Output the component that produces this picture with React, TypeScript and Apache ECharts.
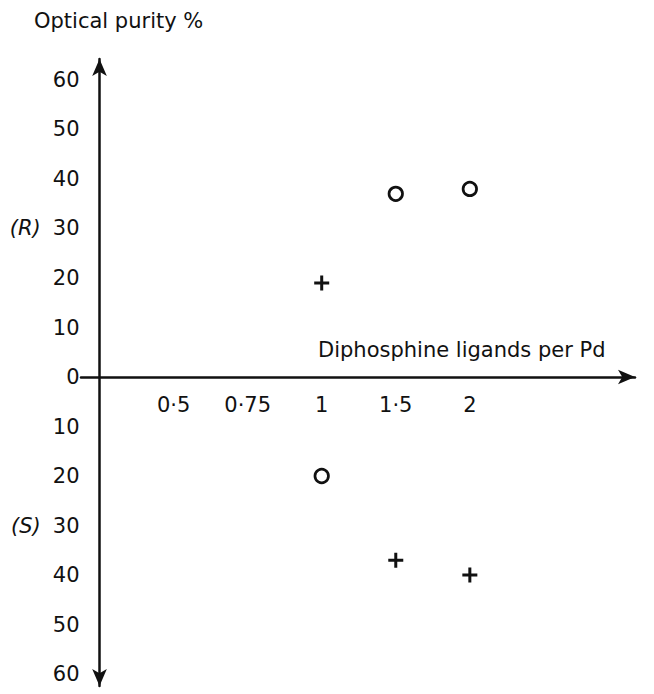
import React, { useEffect, useRef } from "react";
import * as echarts from "echarts";

// x positions (equally spaced in the original figure)
const xLabels = ["0·5", "0·75", "1", "1·5", "2"];
// y tick values (below zero shown as (S) values)
const yTicks = [-60, -50, -40, -30, -20, -10, 0, 10, 20, 30, 40, 50, 60];

// open circles
const circleX = ["1", "1·5", "2"];
const circleY = [-20, 37, 38];
// crosses
const crossX = ["1", "1·5", "2"];
const crossY = [19, -37, -40];

const FONT = "DejaVu Sans";
const INK = "#111111";
const FS = 21;

const xIndex = (lab: string) => xLabels.indexOf(lab) + 1;

// grid geometry
const G_LEFT = 81;
const G_RIGHT = 19;
const G_TOP = 59;
const G_BOTTOM = 8;
const X_MIN = -0.25;
const X_MAX = 7.23;
const Y_MIN = -62.42;
const Y_MAX = 64.24;
const W = 654;
const H = 694;

export default function App() {
  const ref = useRef<HTMLDivElement>(null);
  useEffect(() => {
    if (!ref.current) return;
    const chart = echarts.init(ref.current, null, { renderer: "svg" });
    const plusPath = "path://M6,0H9V6H15V9H9V15H6V9H0V6H6Z";
    const gw = W - G_LEFT - G_RIGHT;
    const gh = H - G_TOP - G_BOTTOM;
    // offsets that put each axis at the other axis's zero
    const yAxisOffset = -((0 - X_MIN) / (X_MAX - X_MIN)) * gw;
    const xAxisOffset = -((0 - Y_MIN) / (Y_MAX - Y_MIN)) * gh;
    chart.setOption({
      animation: false,
      backgroundColor: "#ffffff",
      title: [
        {
          text: "Optical purity %",
          left: 34,
          top: 10,
          padding: 0,
          textStyle: { fontFamily: FONT, fontSize: FS, fontWeight: "normal", color: INK },
        },
        {
          text: "Diphosphine ligands per Pd",
          left: 318,
          top: 339,
          padding: 0,
          textStyle: { fontFamily: FONT, fontSize: FS, fontWeight: "normal", color: INK },
        },
      ],
      grid: { left: G_LEFT, right: G_RIGHT, top: G_TOP, bottom: G_BOTTOM, outerBoundsMode: "none", containLabel: false },
      xAxis: {
        type: "value",
        min: X_MIN,
        max: X_MAX,
        position: "bottom",
        offset: xAxisOffset,
        axisLine: {
          show: true,
          onZero: false,
          lineStyle: { color: INK, width: 2.5 },
          symbol: ["none", "arrow"],
          symbolSize: [11, 17],
        },
        axisTick: { show: false },
        splitLine: { show: false },
        axisLabel: {
          customValues: xLabels.map((_, i) => i + 1),
          formatter: (v: number) => xLabels[Math.round(v) - 1] ?? "",
          margin: 17,
          fontFamily: FONT,
          fontSize: FS,
          color: INK,
        },
      },
      yAxis: {
        type: "value",
        min: Y_MIN,
        max: Y_MAX,
        position: "left",
        offset: yAxisOffset,
        axisLine: {
          show: true,
          onZero: false,
          lineStyle: { color: INK, width: 2.5 },
          symbol: ["arrow", "arrow"],
          symbolSize: [11, 17],
        },
        axisTick: { show: false },
        splitLine: { show: false },
        axisLabel: {
          customValues: yTicks,
          margin: 20,
          fontFamily: FONT,
          fontSize: FS,
          color: INK,
          formatter: (v: number) => {
            const n = Math.abs(Math.round(v));
            if (Math.round(v) === 30) return `{it|(R)}{n|${n}}`;
            if (Math.round(v) === -30) return `{it|(S)}{n|${n}}`;
            return `${n}`;
          },
          rich: {
            it: { fontFamily: FONT, fontSize: FS, fontStyle: "italic", color: INK, padding: [0, 12, 0, 0] },
            n: { fontFamily: FONT, fontSize: FS, color: INK },
          },
        },
      },
      series: [
        {
          name: "circles",
          type: "scatter",
          symbol: "circle",
          symbolSize: 13.5,
          itemStyle: { color: "#ffffff", borderColor: INK, borderWidth: 2.7, opacity: 1 },
          data: circleX.map((x, i) => [xIndex(x), circleY[i]]),
        },
        {
          name: "crosses",
          type: "scatter",
          symbol: plusPath,
          symbolSize: 15,
          itemStyle: { color: INK, opacity: 1 },
          data: crossX.map((x, i) => [xIndex(x), crossY[i]]),
        },
      ],
    });
    return () => chart.dispose();
  }, []);
  return (
    <div
      ref={ref}
      style={{ position: "absolute", left: 0, top: 0, width: W, height: H }}
    />
  );
}
